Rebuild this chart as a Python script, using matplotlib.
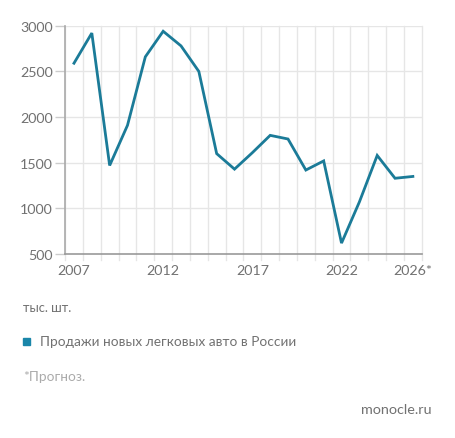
import numpy as np
import matplotlib.pyplot as plt

plt.rcParams['font.family'] = ['Lato', 'DejaVu Sans']

# sales of new passenger cars in Russia, thousand units
years = list(range(2007, 2027))
sales = [2590, 2920, 1470, 1910, 2660, 2940, 2780, 2500, 1600, 1430,
         1610, 1800, 1760, 1420, 1520, 620, 1070, 1580, 1330, 1350]
x_labels = ['2007', '2012', '2017', '2022', '2026*']
x_label_pos = [2007, 2012, 2017, 2022, 2026]
y_ticks = [500, 1000, 1500, 2000, 2500, 3000]

line_color = '#1b7b98'
grid_color = '#e6e6e6'
text_color = '#717171'

fig = plt.figure(figsize=(4.55, 4.39), dpi=100)
ax = fig.add_axes([0.143, 0.419, 0.784, 0.52])

# vertical grid on the year boundaries, sticking out below the axis a bit
for b in np.arange(2006.5, 2027.0, 1.0):
    ax.plot([b, b], [440, 3000], color=grid_color, lw=1, clip_on=False, zorder=1)
for v in y_ticks[1:]:
    ax.axhline(v, color=grid_color, lw=1, zorder=1)

ax.plot(years, sales, color=line_color, lw=2, zorder=3, solid_joinstyle='miter')

ax.set_xlim(2006.5, 2026.5)
ax.set_ylim(500, 3000)
ax.set_yticks(y_ticks)
ax.set_yticklabels([str(v) for v in y_ticks])
ax.set_xticks(x_label_pos)
ax.set_xticklabels(x_labels)
ax.tick_params(axis='x', length=0, pad=7, labelsize=10.3, labelcolor=text_color)
ax.tick_params(axis='y', length=7, width=1, color='#cccccc', pad=2,
               labelsize=10.3, labelcolor=text_color)

for s in ['top', 'right']:
    ax.spines[s].set_visible(False)
ax.spines['left'].set_color('#aaaaaa')
ax.spines['bottom'].set_color('#999999')
ax.spines['left'].set_linewidth(1.2)
ax.spines['bottom'].set_linewidth(1.2)
ax.spines['left'].set_zorder(4)
ax.spines['bottom'].set_zorder(4)

fig.text(23 / 455, 1 - 308 / 439, 'тыс. шт.', fontsize=9.3, color=text_color,
         va='center', ha='left')
fig.patches.append(plt.Rectangle((23 / 455, 1 - 346 / 439), 7 / 455, 7 / 439,
                                 transform=fig.transFigure, color='#1a86a9',
                                 figure=fig))
fig.text(40 / 455, 1 - 342 / 439, 'Продажи новых легковых авто в России',
         fontsize=9.85, color=text_color, va='center', ha='left')
fig.text(23 / 455, 1 - 377 / 439, '*Прогноз.', fontsize=9.8, color='#ababab',
         va='center', ha='left')
fig.text(432 / 455, 1 - 410 / 439, 'monocle.ru', fontsize=10.4, color=text_color,
         va='center', ha='right')

fig.savefig('out.png', dpi=100)
